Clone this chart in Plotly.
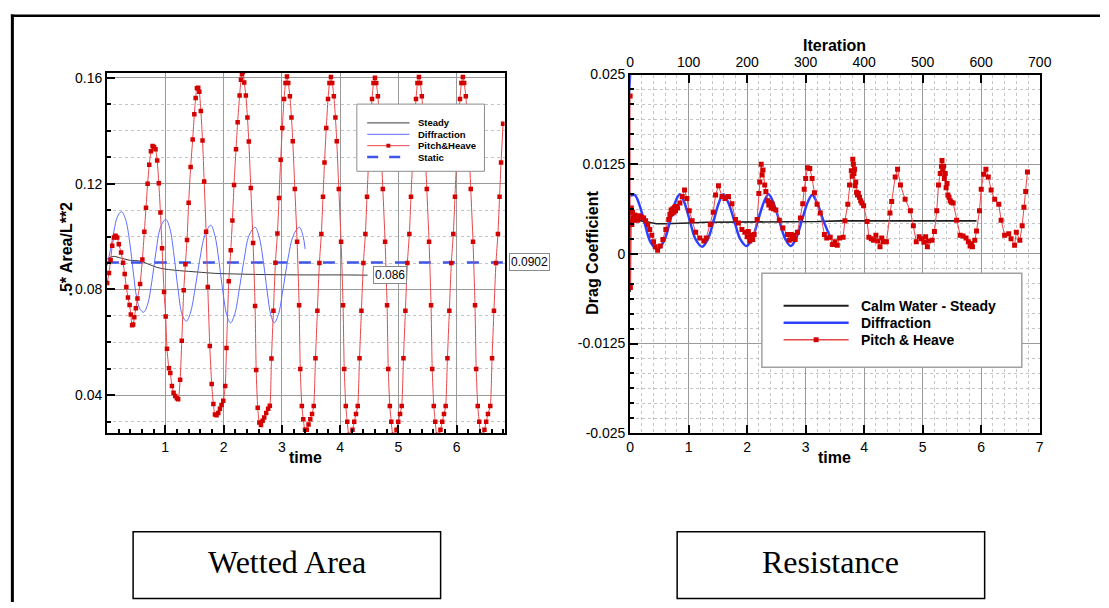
import plotly.graph_objects as go

W, H = 1109, 608

# ---------------- Left chart data (Wetted Area) ----------------
STEADY_T = [0.003, 0.10, 0.25, 0.40, 0.55, 0.70, 0.85, 1.00, 1.25, 1.55, 1.85, 2.30, 2.80, 3.40, 4.00, 4.47]
STEADY_AREA = [0.0915, 0.0925, 0.0918, 0.0910, 0.0908, 0.0897, 0.0884, 0.0877, 0.0871, 0.0866, 0.0861, 0.0858, 0.0856, 0.0855, 0.0855, 0.0854]

DIFF_T = [0.003, 0.06, 0.12, 0.18, 0.25, 0.32, 0.39, 0.45, 0.51, 0.57, 0.63, 0.70, 0.77, 0.84, 0.92, 1.01,
          1.08, 1.15, 1.22, 1.29, 1.36, 1.43, 1.51, 1.59, 1.68, 1.78, 1.85, 1.92, 1.99, 2.06, 2.12, 2.19,
          2.27, 2.35, 2.44, 2.54, 2.61, 2.68, 2.75, 2.81, 2.87, 2.94, 3.02, 3.10, 3.20, 3.30, 3.36, 3.40]
DIFF_AREA = [0.0890, 0.0950, 0.1020, 0.1075, 0.1094, 0.1065, 0.0980, 0.0870, 0.0770, 0.0725, 0.0714, 0.0745,
             0.0830, 0.0940, 0.1035, 0.1065, 0.1030, 0.0930, 0.0800, 0.0705, 0.0680, 0.0710, 0.0800, 0.0910,
             0.1005, 0.1043, 0.1005, 0.0910, 0.0790, 0.0700, 0.0674, 0.0705, 0.0800, 0.0910, 0.1005, 0.1035,
             0.1000, 0.0910, 0.0790, 0.0705, 0.0674, 0.0705, 0.0800, 0.0910, 0.1005, 0.1035, 0.1005, 0.0953]

STATIC_T = [0.0, 6.82]
STATIC_AREA = [0.0902, 0.0902]

PH_T = [0.003, 0.035, 0.063, 0.091, 0.120, 0.148, 0.176, 0.204, 0.243, 0.277, 0.305, 0.333, 0.361, 0.389,
        0.410, 0.432, 0.450, 0.470, 0.496, 0.524, 0.569, 0.608, 0.642, 0.670, 0.698, 0.726, 0.755, 0.783,
        0.808, 0.834, 0.862, 0.890, 0.918, 0.946, 0.980, 1.008, 1.030, 1.064, 1.087, 1.115, 1.143, 1.171,
        1.200, 1.222, 1.256, 1.284, 1.318, 1.346, 1.374, 1.402, 1.436,
        1.471, 1.499, 1.522, 1.544, 1.566, 1.585, 1.611, 1.640, 1.668, 1.701, 1.730, 1.764, 1.797, 1.826,
        1.853, 1.880, 1.910, 1.938, 1.966, 1.995, 2.029, 2.051, 2.090, 2.124, 2.152, 2.180, 2.214, 2.242,
        2.276, 2.299, 2.316, 2.333, 2.355, 2.383, 2.410, 2.434, 2.468, 2.507, 2.541, 2.560, 2.586, 2.614,
        2.642, 2.670, 2.698, 2.732, 2.766, 2.794, 2.822, 2.856, 2.890, 2.924, 2.952, 2.980,
        3.008, 3.038, 3.063, 3.088, 3.110, 3.138, 3.165, 3.188, 3.223, 3.262, 3.296, 3.316, 3.343, 3.368,
        3.398, 3.428, 3.458, 3.488, 3.518,
        3.547, 3.577, 3.610, 3.644, 3.678, 3.706, 3.732, 3.762, 3.792, 3.817, 3.842, 3.864, 3.892, 3.919,
        3.942, 3.977, 4.016, 4.050, 4.070, 4.097, 4.122, 4.152, 4.182, 4.212, 4.242, 4.272,
        4.302, 4.332, 4.365, 4.399, 4.433, 4.461, 4.487, 4.517, 4.547, 4.572, 4.597, 4.619, 4.647, 4.674,
        4.697, 4.732, 4.771, 4.805, 4.825, 4.852, 4.877, 4.907, 4.937, 4.967, 4.997, 5.027,
        5.056, 5.086, 5.119, 5.153, 5.187, 5.215, 5.241, 5.271, 5.301, 5.326, 5.351, 5.373, 5.401, 5.428,
        5.451, 5.486, 5.525, 5.559, 5.579, 5.606, 5.631, 5.661, 5.691, 5.721, 5.751, 5.781,
        5.810, 5.840, 5.873, 5.907, 5.941, 5.969, 5.995, 6.025, 6.055, 6.080, 6.105, 6.127, 6.155, 6.182,
        6.205, 6.240, 6.279, 6.313, 6.333, 6.360, 6.385, 6.415, 6.445, 6.475, 6.505, 6.535,
        6.575, 6.605, 6.638, 6.672, 6.706, 6.734, 6.760, 6.795]
PH_AREA = [0.0824, 0.0862, 0.0911, 0.0965, 0.0996, 0.1003, 0.0996, 0.0971, 0.0940, 0.0901, 0.0858, 0.0809,
           0.0770, 0.0741, 0.0705, 0.0665, 0.0668, 0.0695, 0.0729, 0.0766, 0.0821, 0.0913, 0.1018, 0.1109,
           0.1199, 0.1271, 0.1322, 0.1342, 0.1338, 0.1330, 0.1287, 0.1201, 0.1091, 0.0956, 0.0790, 0.0698,
           0.0576, 0.0502, 0.0484, 0.0435, 0.0410, 0.0398, 0.0389, 0.0385, 0.0459, 0.0606, 0.0797, 0.0895,
           0.0987, 0.1128, 0.1263,
           0.1367, 0.1462, 0.1523, 0.1560, 0.1562, 0.1547, 0.1474, 0.1363, 0.1208, 0.1018, 0.0809, 0.0586,
           0.0443, 0.0367, 0.0328, 0.0325, 0.0333, 0.0349, 0.0364, 0.0380, 0.0435, 0.0579, 0.0831, 0.0948,
           0.1061, 0.1195, 0.1330, 0.1432, 0.1533, 0.1592, 0.1613, 0.1622, 0.1582, 0.1533, 0.1450, 0.1359,
           0.1183, 0.0976, 0.0738, 0.0496, 0.0353, 0.0297, 0.0288, 0.0304, 0.0316, 0.0333, 0.0349, 0.0361,
           0.0539, 0.0720, 0.0901, 0.1011, 0.1146, 0.1290,
           0.1410, 0.1520, 0.1580, 0.1605, 0.1580, 0.1530, 0.1450, 0.1360, 0.1180, 0.0980, 0.0740, 0.0500,
           0.0360, 0.0310, 0.0270, 0.0270, 0.0290, 0.0310, 0.0330,
           0.0360, 0.0540, 0.0720, 0.0900, 0.1010, 0.1150, 0.1280, 0.1410, 0.1520, 0.1580, 0.1603, 0.1580,
           0.1530, 0.1450, 0.1360, 0.1180, 0.0980, 0.0740, 0.0500, 0.0360, 0.0300, 0.0250, 0.0250, 0.0270,
           0.0300, 0.0330,
           0.0360, 0.0540, 0.0720, 0.0900, 0.1010, 0.1150, 0.1280, 0.1410, 0.1520, 0.1580, 0.1600, 0.1580,
           0.1530, 0.1450, 0.1360, 0.1180, 0.0980, 0.0740, 0.0500, 0.0360, 0.0300, 0.0250, 0.0250, 0.0270,
           0.0300, 0.0330,
           0.0360, 0.0540, 0.0720, 0.0900, 0.1010, 0.1150, 0.1280, 0.1410, 0.1520, 0.1580, 0.1603, 0.1580,
           0.1530, 0.1450, 0.1360, 0.1180, 0.0980, 0.0740, 0.0500, 0.0360, 0.0300, 0.0250, 0.0250, 0.0270,
           0.0300, 0.0330,
           0.0360, 0.0540, 0.0720, 0.0900, 0.1010, 0.1150, 0.1280, 0.1410, 0.1520, 0.1580, 0.1603, 0.1580,
           0.1530, 0.1450, 0.1360, 0.1180, 0.0980, 0.0740, 0.0500, 0.0360, 0.0300, 0.0250, 0.0250, 0.0270,
           0.0300, 0.0330,
           0.0360, 0.0540, 0.0720, 0.0900, 0.1010, 0.1150, 0.1280, 0.1426]

# ---------------- Right chart data (Resistance) ----------------
CALM_T = [0.0, 0.002, 0.01, 0.05, 0.10, 0.20, 0.30, 0.45, 0.60, 0.80, 1.00, 1.30, 1.60, 2.00, 2.40, 2.80,
          3.20, 3.60, 4.00, 4.40, 4.80, 5.20, 5.60, 5.92]
CALM_CD = [0.0060, -0.0053, 0.0058, 0.0052, 0.0048, 0.0046, 0.0044, 0.0042, 0.0042, 0.0043, 0.0043, 0.0044,
           0.0044, 0.0045, 0.0045, 0.0045, 0.0045, 0.0046, 0.0046, 0.0046, 0.0046, 0.0046, 0.0046, 0.0046]

DIFFR_T = [0.0, 0.005, 0.08, 0.16, 0.25, 0.35, 0.47, 0.58, 0.68, 0.77, 0.85, 0.93, 1.02, 1.12, 1.23, 1.33,
           1.43, 1.52, 1.595, 1.68, 1.78, 1.88, 1.99, 2.09, 2.19, 2.29, 2.365, 2.45, 2.55, 2.65, 2.745,
           2.84, 2.94, 3.04, 3.11, 3.20, 3.30, 3.42]
DIFFR_CD = [0.0250, 0.0082, 0.0082, 0.0068, 0.0042, 0.0016, 0.0006, 0.0018, 0.0045, 0.0072, 0.0083, 0.0071,
            0.0046, 0.0020, 0.0010, 0.0021, 0.0047, 0.0072, 0.0083, 0.0071, 0.0046, 0.0021, 0.0011, 0.0022,
            0.0048, 0.0073, 0.0083, 0.0071, 0.0046, 0.0021, 0.0011, 0.0022, 0.0048, 0.0073, 0.0082, 0.0070,
            0.0047, 0.0023]

PHR_T = [0.000, 0.004, 0.010, 0.020, 0.030, 0.040, 0.050, 0.065, 0.080, 0.095, 0.110, 0.130, 0.160, 0.200,
         0.230, 0.265, 0.300, 0.335, 0.370, 0.400, 0.430, 0.470, 0.515, 0.560, 0.610, 0.660, 0.680, 0.700,
         0.715, 0.730, 0.745, 0.760, 0.775, 0.790, 0.810, 0.850, 0.890, 0.930, 0.970, 1.010, 1.060, 1.120,
         1.190, 1.260, 1.300, 1.370, 1.420, 1.460, 1.510, 1.570, 1.620, 1.680, 1.740, 1.800, 1.850, 1.910,
         1.960, 2.000, 2.020, 2.045, 2.070, 2.095, 2.120, 2.170, 2.200, 2.215, 2.240, 2.255, 2.270, 2.300,
         2.320, 2.350, 2.370, 2.390, 2.410, 2.430, 2.450, 2.490, 2.550, 2.610, 2.690, 2.720, 2.750, 2.770,
         2.800, 2.820, 2.860, 2.910, 2.950, 2.975, 3.000, 3.030, 3.070, 3.110, 3.150, 3.195, 3.250, 3.320,
         3.360, 3.420, 3.460, 3.500, 3.540, 3.580, 3.640, 3.670, 3.720, 3.750, 3.780, 3.795, 3.805, 3.815,
         3.825, 3.835, 3.845, 3.855, 3.870, 3.885, 3.900, 3.920, 3.940, 3.960, 3.990, 4.050, 4.080, 4.120,
         4.160, 4.200, 4.230, 4.270, 4.300, 4.330, 4.380, 4.440, 4.470, 4.530, 4.570, 4.620, 4.700, 4.790,
         4.840, 4.890, 4.940, 4.980, 5.020, 5.050, 5.080, 5.100, 5.160, 5.200, 5.240, 5.270, 5.300, 5.320,
         5.330, 5.345, 5.355, 5.370, 5.385, 5.400, 5.415, 5.430, 5.450, 5.470, 5.490, 5.520, 5.580, 5.640,
         5.690, 5.740, 5.780, 5.810, 5.830, 5.850, 5.890, 5.920, 5.970, 6.000, 6.040, 6.080, 6.120, 6.170,
         6.230, 6.300, 6.340, 6.400, 6.470, 6.510, 6.570, 6.600, 6.660, 6.700, 6.730, 6.760, 6.790]
PHR_CD = [0.0220, -0.0047, 0.0045, 0.0064, 0.0041, 0.0058, 0.0050, 0.0047, 0.0054, 0.0049, 0.0051, 0.0047,
          0.0053, 0.0051, 0.0050, 0.0046, 0.0041, 0.0034, 0.0026, 0.0017, 0.0010, 0.0005, 0.0011, 0.0020,
          0.0034, 0.0048, 0.0055, 0.0061, 0.0056, 0.0063, 0.0058, 0.0065, 0.0060, 0.0066, 0.0064, 0.0071,
          0.0080, 0.0089, 0.0077, 0.0060, 0.0046, 0.0030, 0.0022, 0.0018, 0.0022, 0.0041, 0.0058, 0.0082,
          0.0095, 0.0080, 0.0077, 0.0080, 0.0070, 0.0048, 0.0043, 0.0034, 0.0030, 0.0024, 0.0031, 0.0018,
          0.0026, 0.0020, 0.0027, 0.0048, 0.0084, 0.0100, 0.0125, 0.0110, 0.0117, 0.0096, 0.0087, 0.0074,
          0.0068, 0.0072, 0.0064, 0.0069, 0.0063, 0.0061, 0.0047, 0.0036, 0.0027, 0.0019, 0.0027, 0.0021,
          0.0026, 0.0020, 0.0030, 0.0050, 0.0070, 0.0090, 0.0105, 0.0120, 0.0119, 0.0105, 0.0085, 0.0069,
          0.0057, 0.0027, 0.0022, 0.0023, 0.0013, 0.0017, 0.0012, 0.0022, 0.0023, 0.0046, 0.0069, 0.0096,
          0.0116, 0.0108, 0.0132, 0.0125, 0.0112, 0.0118, 0.0095, 0.0100, 0.0086, 0.0082, 0.0084, 0.0079,
          0.0074, 0.0071, 0.0067, 0.0045, 0.0023, 0.0021, 0.0019, 0.0026, 0.0018, 0.0010, 0.0022, 0.0017,
          0.0017, 0.0057, 0.0073, 0.0107, 0.0118, 0.0096, 0.0076, 0.0060, 0.0039, 0.0017, 0.0024, 0.0021,
          0.0016, 0.0024, 0.0010, 0.0018, 0.0019, 0.0031, 0.0060, 0.0096, 0.0112, 0.0122, 0.0130, 0.0118,
          0.0122, 0.0105, 0.0112, 0.0092, 0.0098, 0.0082, 0.0079, 0.0074, 0.0072, 0.0071, 0.0047, 0.0026,
          0.0025, 0.0022, 0.0017, 0.0011, 0.0014, 0.0010, 0.0019, 0.0032, 0.0060, 0.0090, 0.0111, 0.0118,
          0.0107, 0.0089, 0.0076, 0.0069, 0.0047, 0.0026, 0.0028, 0.0021, 0.0012, 0.0030, 0.0019, 0.0039,
          0.0065, 0.0087, 0.0114]

LEFT_YTICKS = [0.04, 0.08, 0.12, 0.16]
LEFT_XTICKS = [1, 2, 3, 4, 5, 6]
RIGHT_YTICKS = [-0.025, -0.0125, 0, 0.0125, 0.025]
RIGHT_YTEXT = ["-0.025", "-0.0125", "0", "0.0125", "0.025"]
RIGHT_XTICKS = [0, 1, 2, 3, 4, 5, 6, 7]
ITER_TICKS = [0, 100, 200, 300, 400, 500, 600, 700]

STEADY_END_LABEL = "0.086"
STATIC_LABEL = "0.0902"


# ---------------- helpers (pixel -> paper) ----------------
def px(x):
    return x / W


def py(y):
    return 1 - y / H


FONT = "Arial, Liberation Sans, sans-serif"
RED_LINE = "#e8474a"
RED_MARK = "#d40000"

fig = go.Figure()

# Left chart traces
fig.add_trace(go.Scatter(x=STEADY_T, y=STEADY_AREA, mode="lines", line=dict(color="#3a3a3a", width=1, shape="spline"),
                         xaxis="x", yaxis="y", showlegend=False, name="Steady"))
fig.add_trace(go.Scatter(x=DIFF_T, y=DIFF_AREA, mode="lines", line=dict(color="#5d6dff", width=1, shape="spline"),
                         xaxis="x", yaxis="y", showlegend=False, name="Diffraction"))
fig.add_trace(go.Scatter(x=STATIC_T, y=STATIC_AREA, mode="lines", line=dict(color="#3f55e6", width=2.5, dash="12px,12px"),
                         xaxis="x", yaxis="y", showlegend=False, name="Static"))
fig.add_trace(go.Scatter(x=PH_T, y=PH_AREA, mode="lines+markers",
                         line=dict(color=RED_LINE, width=1, shape="spline", smoothing=0.6),
                         marker=dict(symbol="square", size=4.5, color=RED_MARK),
                         xaxis="x", yaxis="y", showlegend=False, name="Pitch&Heave"))

# Right chart traces
fig.add_trace(go.Scatter(x=CALM_T, y=CALM_CD, mode="lines", line=dict(color="#1e1e1e", width=1.6),
                         xaxis="x2", yaxis="y2", showlegend=False, name="Calm Water - Steady"))
fig.add_trace(go.Scatter(x=DIFFR_T, y=DIFFR_CD, mode="lines", line=dict(color="#2f3fff", width=2.5, shape="spline"),
                         xaxis="x2", yaxis="y2", showlegend=False, name="Diffraction"))
fig.add_trace(go.Scatter(x=PHR_T, y=PHR_CD, mode="lines+markers",
                         line=dict(color=RED_LINE, width=1),
                         marker=dict(symbol="square", size=5, color=RED_MARK),
                         xaxis="x2", yaxis="y2", showlegend=False, name="Pitch & Heave"))
# anchor trace for the Iteration axis
fig.add_trace(go.Scatter(x=[None], y=[None], xaxis="x3", yaxis="y2", showlegend=False, hoverinfo="skip"))

tickfont = dict(family=FONT, size=14, color="black")
major_grid = "#9a9a9a"
minor_grid = "#c4c4c4"

L_DOM_X = [px(104.6), px(507.9)]
L_DOM_Y = [py(436.7), py(66.7)]
R_DOM_X = [px(635.3), px(1050.9)]
R_DOM_Y = [py(436.7), py(68.3)]

fig.update_layout(
    width=W, height=H, margin=dict(l=0, r=0, t=0, b=0), autosize=False,
    paper_bgcolor="white", plot_bgcolor="white", showlegend=False,
    xaxis=dict(domain=L_DOM_X, anchor="y", range=[0.003, 6.82], tickmode="array", tickvals=LEFT_XTICKS,
               ticks="inside", ticklen=8, tickwidth=2, tickcolor="black", tickfont=tickfont,
               showline=True, linecolor="black", linewidth=2, mirror=True,
               showgrid=True, gridcolor=major_grid, gridwidth=1, zeroline=False,
               minor=dict(tickmode="linear", tick0=0, dtick=0.2, ticks="inside", ticklen=4, tickcolor="black",
                          showgrid=False)),
    yaxis=dict(domain=L_DOM_Y, anchor="x", range=[0.0257, 0.1618], tickmode="array", tickvals=LEFT_YTICKS,
               ticktext=["0.04", "0.08", "0.12", "0.16"],
               ticks="inside", ticklen=8, tickwidth=2, tickcolor="black", tickfont=tickfont,
               showline=True, linecolor="black", linewidth=2, mirror=True,
               showgrid=True, gridcolor=major_grid, gridwidth=1, zeroline=False,
               minor=dict(tickmode="linear", tick0=0, dtick=0.01, ticks="inside", ticklen=4, tickcolor="black",
                          showgrid=True, gridcolor=minor_grid, griddash="dot", gridwidth=1)),
    xaxis2=dict(domain=R_DOM_X, anchor="y2", range=[0, 7], tickmode="array", tickvals=RIGHT_XTICKS,
                ticks="inside", ticklen=8, tickwidth=2, tickcolor="black", tickfont=tickfont,
                showline=True, linecolor="black", linewidth=2, mirror=True,
                showgrid=True, gridcolor=major_grid, gridwidth=1, zeroline=False,
                minor=dict(tickmode="linear", tick0=0, dtick=0.2, showgrid=True, gridcolor=minor_grid,
                           griddash="dot", gridwidth=1)),
    xaxis3=dict(overlaying="x2", anchor="y2", side="top", range=[0, 700], tickmode="array", tickvals=ITER_TICKS,
                ticks="inside", ticklen=8, tickwidth=2, tickcolor="black", tickfont=tickfont,
                showline=True, linecolor="black", linewidth=2, showgrid=False, zeroline=False),
    yaxis2=dict(domain=R_DOM_Y, anchor="x2", range=[-0.025, 0.025], tickmode="array", tickvals=RIGHT_YTICKS,
                ticktext=RIGHT_YTEXT,
                ticks="inside", ticklen=8, tickwidth=2, tickcolor="black", tickfont=tickfont,
                showline=True, linecolor="black", linewidth=2, mirror=True,
                showgrid=True, gridcolor=major_grid, gridwidth=1, zeroline=False,
                minor=dict(tickmode="linear", tick0=0, dtick=0.0125 / 6, ticks="inside", ticklen=4,
                           tickcolor="black", showgrid=True, gridcolor=minor_grid, griddash="dot", gridwidth=1)),
)

shapes = []
annotations = []
bold = dict(family=FONT, size=16, color="black", weight="bold")

# Axis titles
annotations += [
    dict(text=".5* Area/L**2", x=px(63), y=py(248), xref="paper", yref="paper", textangle=-90, showarrow=False,
         font=bold, xanchor="center", yanchor="middle"),
    dict(text="time", x=px(306), y=py(462), xref="paper", yref="paper", showarrow=False, font=bold,
         xanchor="center", yanchor="middle"),
    dict(text="time", x=px(843), y=py(462), xref="paper", yref="paper", showarrow=False, font=bold,
         xanchor="center", yanchor="middle"),
    dict(text="Iteration", x=px(843), y=py(39), xref="paper", yref="paper", showarrow=False, font=bold,
         xanchor="center", yanchor="middle"),
    dict(text="Drag Coefficient", x=px(597), y=py(251), xref="paper", yref="paper", textangle=-90,
         showarrow=False, font=bold, xanchor="center", yanchor="middle"),
]

# Value labels
annotations += [
    dict(text=STEADY_END_LABEL, x=4.85, y=STEADY_AREA[-1], xref="x", yref="y", showarrow=False,
         font=dict(family=FONT, size=12, color="black"), bgcolor="white", bordercolor="#8a8a8a",
         borderwidth=1, borderpad=1, xanchor="center", yanchor="middle"),
    dict(text=STATIC_LABEL, x=px(533), y=STATIC_AREA[0], xref="paper", yref="y", showarrow=False,
         font=dict(family=FONT, size=12, color="black"), bgcolor="white", bordercolor="#8a8a8a",
         borderwidth=1, borderpad=1, xanchor="center", yanchor="middle"),
]

# Left legend (manual)
shapes.append(dict(type="rect", xref="paper", yref="paper", x0=px(358), x1=px(487.5), y0=py(167.7), y1=py(98.7),
                   line=dict(color="#8c8c8c", width=1), fillcolor="white", layer="above"))
left_items = [("Steady", dict(color="#3a3a3a", width=1), False),
              ("Diffraction", dict(color="#5d6dff", width=1), False),
              ("Pitch&Heave", dict(color=RED_LINE, width=1), True),
              ("Static", dict(color="#3f55e6", width=2.5, dash="11px,11px"), False)]
for i, (label, ln, mk) in enumerate(left_items):
    yy = 118 + i * 11.7
    shapes.append(dict(type="line", xref="paper", yref="paper", x0=px(368.5), x1=px(411.5), y0=py(yy), y1=py(yy),
                       line=ln, layer="above"))
    if mk:
        shapes.append(dict(type="rect", xref="paper", yref="paper", x0=px(388), x1=px(392), y0=py(yy + 2),
                           y1=py(yy - 2), line=dict(width=0), fillcolor=RED_MARK, layer="above"))
    annotations.append(dict(text=label, x=px(418.5), y=py(yy), xref="paper", yref="paper", showarrow=False,
                            xanchor="left", yanchor="middle",
                            font=dict(family=FONT, size=9.5, color="black", weight="bold")))

# Right legend (manual)
shapes.append(dict(type="rect", xref="paper", yref="paper", x0=px(769), x1=px(1032.7), y0=py(369), y1=py(272.3),
                   line=dict(color="#a0a0a0", width=1.5), fillcolor="white", layer="above"))
right_items = [("Calm Water - Steady", dict(color="#1e1e1e", width=2), False),
               ("Diffraction", dict(color="#2f3fff", width=2.5), False),
               ("Pitch & Heave", dict(color=RED_LINE, width=1.5), True)]
for i, (label, ln, mk) in enumerate(right_items):
    yy = 305.7 + i * 17.5
    shapes.append(dict(type="line", xref="paper", yref="paper", x0=px(791), x1=px(857), y0=py(yy), y1=py(yy),
                       line=ln, layer="above"))
    if mk:
        shapes.append(dict(type="rect", xref="paper", yref="paper", x0=px(821.5), x1=px(826.5), y0=py(yy + 2.5),
                           y1=py(yy - 2.5), line=dict(width=0), fillcolor=RED_MARK, layer="above"))
    annotations.append(dict(text=label, x=px(868), y=py(yy), xref="paper", yref="paper", showarrow=False,
                            xanchor="left", yanchor="middle",
                            font=dict(family=FONT, size=14, color="black", weight="bold")))

# Outer frame
shapes.append(dict(type="line", xref="paper", yref="paper", x0=px(8.5), x1=px(8.5), y0=py(6.8), y1=py(610),
                   line=dict(color="black", width=3)))
shapes.append(dict(type="line", xref="paper", yref="paper", x0=px(7), x1=px(1112), y0=py(8), y1=py(8),
                   line=dict(color="black", width=2.5)))

# Caption boxes
for (x0, x1, label) in [(131, 443, "Wetted Area"), (683, 995, "Resistance")]:
    shapes.append(dict(type="rect", xref="paper", yref="paper", x0=px(x0), x1=px(x1), y0=py(606.5), y1=py(538),
                       line=dict(color="black", width=1.5)))
    annotations.append(dict(text=label, x=px((x0 + x1) / 2), y=py(569), xref="paper", yref="paper",
                            showarrow=False, xanchor="center", yanchor="middle",
                            font=dict(family="Liberation Serif, Times New Roman, serif", size=32, color="black")))

fig.update_layout(shapes=shapes, annotations=annotations)

fig.write_html("out.html")
